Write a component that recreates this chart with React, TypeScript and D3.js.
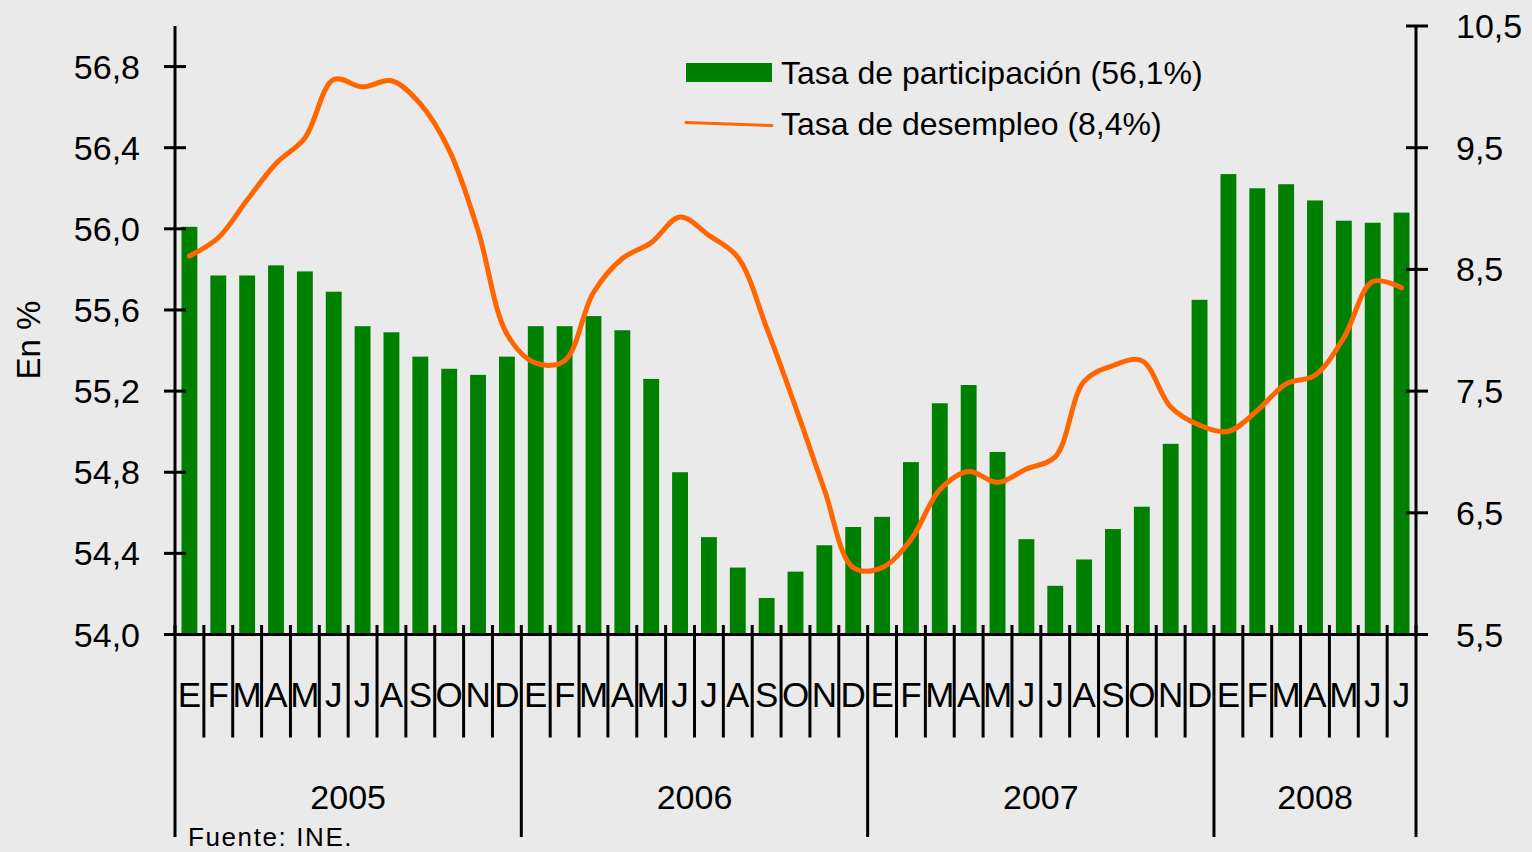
import React from 'react';
import * as d3 from 'd3';

const monthLetters = ['E', 'F', 'M', 'A', 'M', 'J', 'J', 'A', 'S', 'O', 'N', 'D'];
const years = ['2005', '2006', '2007', '2008'];
const monthsPerYear = [12, 12, 12, 7];

// Tasa de participación (left axis, %)
const participacion = [
  56.01, 55.77, 55.77, 55.82, 55.79, 55.69, 55.52, 55.49, 55.37, 55.31, 55.28, 55.37,
  55.52, 55.52, 55.57, 55.50, 55.26, 54.80, 54.48, 54.33, 54.18, 54.31, 54.44, 54.53,
  54.58, 54.85, 55.14, 55.23, 54.90, 54.47, 54.24, 54.37, 54.52, 54.63, 54.94, 55.65,
  56.27, 56.20, 56.22, 56.14, 56.04, 56.03, 56.08,
];

// Tasa de desempleo (right axis, %)
const desempleo = [
  8.61, 8.76, 9.07, 9.37, 9.58, 10.06, 10.0, 10.05, 9.86, 9.48, 8.82, 7.97,
  7.73, 7.75, 8.31, 8.59, 8.72, 8.93, 8.78, 8.60, 8.02, 7.37, 6.69, 6.05,
  6.05, 6.28, 6.69, 6.84, 6.75, 6.86, 6.96, 7.58, 7.71, 7.75, 7.37, 7.22,
  7.17, 7.34, 7.56, 7.63, 7.94, 8.40, 8.35,
];

const leftTicks = [54.0, 54.4, 54.8, 55.2, 55.6, 56.0, 56.4, 56.8];
const rightTicks = [5.5, 6.5, 7.5, 8.5, 9.5, 10.5];

const legendBar = 'Tasa de participación (56,1%)';
const legendLine = 'Tasa de desempleo (8,4%)';
const yAxisTitle = 'En %';
const source = 'Fuente: INE.';

const GREEN = '#008000';
const ORANGE = '#FF6600';
const BG = '#EAEAEA';
const FONT = '"Liberation Sans", Arial, sans-serif';

export default function App() {
  const W = 1532;
  const H = 852;
  const x0 = 175;
  const x1 = 1416;
  const yBottom = 634.5;
  const yTop = 26;

  const labels: { m: string; idx: number }[] = [];
  let k = 0;
  monthsPerYear.forEach((n) => {
    for (let i = 0; i < n; i++) labels.push({ m: monthLetters[i], idx: k++ });
  });
  const n = labels.length;

  const x = d3
    .scaleBand<number>()
    .domain(d3.range(n))
    .range([x0, x1])
    .paddingInner(0.45)
    .paddingOuter(0.225);
  const step = x.step();
  const center = (i: number) => (x(i) as number) + x.bandwidth() / 2;

  const yL = d3.scaleLinear().domain([54, 57]).range([yBottom, yTop]);
  const yR = d3.scaleLinear().domain([5.5, 10.5]).range([yBottom, yTop]);

  const line = d3
    .line<number>()
    .x((_, i) => center(i))
    .y((d) => yR(d))
    .curve(d3.curveCatmullRom.alpha(0.5));

  const fmt = (v: number) => v.toFixed(1).replace('.', ',');

  const yearStarts: number[] = [];
  let acc = 0;
  monthsPerYear.forEach((m) => {
    yearStarts.push(acc);
    acc += m;
  });
  yearStarts.push(acc);

  const boundaries = d3.range(n + 1);

  return (
    <svg
      width={W}
      height={H}
      style={{ position: 'absolute', left: 0, top: 0, fontFamily: FONT }}
    >
      <rect x={0} y={0} width={W} height={H} fill={BG} />

      {participacion.map((v, i) => (
        <rect
          key={'b' + i}
          x={x(i)}
          y={yL(v)}
          width={x.bandwidth()}
          height={yBottom - yL(v)}
          fill={GREEN}
        />
      ))}

      <path
        d={line(desempleo) || ''}
        fill="none"
        stroke={ORANGE}
        strokeWidth={5}
        strokeLinejoin="round"
        strokeLinecap="round"
      />

      <line x1={x0} x2={x0} y1={yTop} y2={yBottom} stroke="#000" strokeWidth={3} />
      {leftTicks.map((t) => (
        <g key={'lt' + t}>
          <line x1={x0 - 11} x2={x0 + 11} y1={yL(t)} y2={yL(t)} stroke="#000" strokeWidth={3} />
          <text
            x={140}
            y={yL(t)}
            textAnchor="end"
            dominantBaseline="central"
            fontSize={34}
            fill="#000"
          >
            {fmt(t)}
          </text>
        </g>
      ))}

      <line x1={x1} x2={x1} y1={yTop - 1} y2={yBottom} stroke="#000" strokeWidth={3} />
      {rightTicks.map((t) => (
        <g key={'rt' + t}>
          <line x1={x1 - 10} x2={x1 + 12} y1={yR(t)} y2={yR(t)} stroke="#000" strokeWidth={3} />
          <text
            x={1456}
            y={yR(t)}
            textAnchor="start"
            dominantBaseline="central"
            fontSize={34}
            fill="#000"
          >
            {fmt(t)}
          </text>
        </g>
      ))}

      <line x1={x0} x2={x1} y1={yBottom} y2={yBottom} stroke="#000" strokeWidth={3} />
      {boundaries.map((b) => {
        const isYear = yearStarts.includes(b);
        const bx = x0 + b * step;
        return (
          <line
            key={'xb' + b}
            x1={bx}
            x2={bx}
            y1={625}
            y2={isYear ? 837 : 737.5}
            stroke="#000"
            strokeWidth={3}
          />
        );
      })}
      {labels.map((l) => (
        <text
          key={'ml' + l.idx}
          x={center(l.idx)}
          y={707}
          textAnchor="middle"
          fontSize={35}
          fill="#000"
        >
          {l.m}
        </text>
      ))}
      {years.map((yr, i) => (
        <text
          key={'yr' + yr}
          x={x0 + ((yearStarts[i] + yearStarts[i + 1]) / 2) * step}
          y={809}
          textAnchor="middle"
          fontSize={34}
          fill="#000"
        >
          {yr}
        </text>
      ))}

      <text
        transform="translate(28,340) rotate(-90)"
        textAnchor="middle"
        dominantBaseline="central"
        fontSize={33}
        fill="#000"
      >
        {yAxisTitle}
      </text>

      <rect x={686} y={63} width={86} height={19} fill={GREEN} />
      <text x={781} y={83.5} fontSize={32} fill="#000">
        {legendBar}
      </text>
      <line x1={686} y1={122.5} x2={772} y2={125.5} stroke={ORANGE} strokeWidth={3} strokeLinecap="round" />
      <text x={781} y={135} fontSize={32} fill="#000">
        {legendLine}
      </text>

      <text x={188} y={846} fontSize={26} letterSpacing={1.6} fill="#000">
        {source}
      </text>
    </svg>
  );
}
